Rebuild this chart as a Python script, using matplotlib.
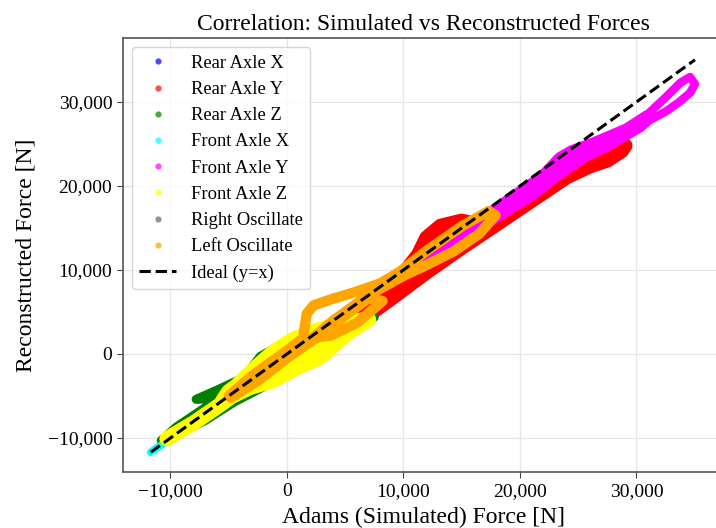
import matplotlib
matplotlib.use("Agg")
import matplotlib.pyplot as plt
from matplotlib.lines import Line2D
from matplotlib.ticker import FuncFormatter

plt.rcParams['font.family'] = ['Liberation Serif', 'DejaVu Serif']

# force pairs (Adams simulated, reconstructed) traced along each channel, in N
rear_x_sim = [-11400, -8000, -5000]
rear_x_rec = [-11300, -8100, -5200]

rear_y_sim = [3000, 6000, 9000, 12000, 15000, 18000, 21000, 24000, 26000, 27500, 28700, 29000,
              28200, 27000, 25800, 24000, 21500, 19000, 16500, 15000, 13200, 12000, 11300,
              10000, 7500, 5000, 3300]
rear_y_rec = [1000, 3700, 6700, 9800, 12700, 15500, 18300, 21100, 22400, 23100, 24200, 24800,
              25200, 24400, 23600, 22000, 19700, 17500, 15300, 15800, 15200, 13800, 11800,
              9500, 6900, 4200, 2400]

rear_z_sim = [-10800, -9500, -8000, -6500, -5000, -4000, -6000, -7800, -6300, -4200, -2300, -400,
              1500, 3500, 5500, 7500, 7000, 5000, 3000, 1900, 0, -2000, -4500, -7000, -9500]
rear_z_rec = [-10300, -8700, -7300, -5900, -4500, -3000, -4300, -5400, -5300, -3700, -300, 1200,
              2300, 3000, 3600, 4400, 4000, 2300, 500, -800, -2300, -3900, -5700, -7900, -9600]

front_x_sim = [-11700, -9000, -6500, -4500, -2000, 2000, 6000, 10000, 11500]
front_x_rec = [-11700, -9200, -6800, -5000, -2500, 1500, 5600, 10000, 11300]

# Front Axle Y: long band, then the loop at the top end
front_y_sim = [10500, 13000, 16000, 19000, 22000, 23500, 24500, 26300, 29200, 31000,
               30200, 27500, 25400, 23000, 21100, 18300, 15000, 12000, 10500]
front_y_rec = [10000, 12400, 15100, 18100, 21000, 23200, 24000, 24900, 26600, 28200,
               27200, 25000, 23600, 21300, 19200, 16800, 13900, 11200, 10000]
front_y_loop_sim = [30500, 31160, 32450, 33740, 34590, 35020, 34590, 33560, 32450, 31160, 30500]
front_y_loop_rec = [27700, 28810, 30480, 32260, 32980, 32140, 31070, 29880, 28810, 27860, 27700]

front_z_sim = [-10300, -8000, -6000, -5000, -4030, -2580, -1200, 515, 2830, 5400, 7000, 5800,
               3500, 1000, -1200, -3500, -5000, -5500, -3180, -1200, 860, 2830, 4980, 5500]
front_z_rec = [-10100, -8200, -6300, -5300, -3390, -1490, 180, 1730, 2920, 3870, 4100, 3000,
               1200, -500, -1500, -3000, -4500, -5540, -3990, -3160, -1610, -420, 2200, 3000]

right_osc_sim = [-4500, 0, 5000, 10000, 15000]
right_osc_rec = [-4600, -100, 4900, 9900, 14800]

left_osc_sim = [-5000, -3000, 0, 1400, 1500, 1700, 2300, 4000, 5700, 8000, 9700, 12000, 15000,
                17300, 17900, 16500, 14300, 12000, 10000, 7000, 4000, 2200, 3800, 6000, 8200,
                7000, 5000, 3000, 0, -2500, -4800]
left_osc_rec = [-5000, -2600, 400, 1900, 3000, 4800, 5800, 6600, 7300, 8400, 9800, 12300, 15200,
                17000, 16500, 14300, 12200, 10600, 9300, 7000, 4000, 1900, 2200, 3700, 6300,
                6600, 4600, 2400, -500, -3200, -5200]

series = [
    ('Rear Axle X', [(rear_x_sim, rear_x_rec, 4)], 'blue'),
    ('Rear Axle Y', [(rear_y_sim, rear_y_rec, 11)], 'red'),
    ('Rear Axle Z', [(rear_z_sim, rear_z_rec, 6.5)], 'green'),
    ('Front Axle X', [(front_x_sim, front_x_rec, 5.5)], 'cyan'),
    ('Front Axle Y', [(front_y_sim, front_y_rec, 10.5),
                      (front_y_loop_sim, front_y_loop_rec, 6)], 'magenta'),
    ('Front Axle Z', [(front_z_sim, front_z_rec, 11)], 'yellow'),
    ('Right Oscillate', [(right_osc_sim, right_osc_rec, 3)], 'dimgray'),
    ('Left Oscillate', [(left_osc_sim, left_osc_rec, 7.5)], 'orange'),
]

fig = plt.figure(figsize=(7.16, 5.28), dpi=100)
# axes end just past the right edge of the picture, as in the cropped original
ax = fig.add_axes([0.1714, 0.1053, 0.8412, 0.8225])

handles = []
all_vals = []
for name, parts, col in series:
    for xs, ys, lw in parts:
        ax.plot(xs, ys, color=col, lw=lw, solid_capstyle='round', solid_joinstyle='round')
        all_vals += xs + ys
    handles.append(Line2D([], [], ls='none', marker='o', ms=4.5, mec='none',
                          color=col, alpha=0.7, label=name))

lo, hi = min(all_vals), max(all_vals)
ideal, = ax.plot([lo, hi], [lo, hi], 'k--', lw=2.2, label='Ideal (y=x)')
handles.append(ideal)

ax.set_xlim(-14100, 37600)
ax.set_ylim(-14100, 37600)
ax.set_xticks([-10000, 0, 10000, 20000, 30000])
ax.set_yticks([-10000, 0, 10000, 20000, 30000])
fmt = FuncFormatter(lambda v, p: f"{v:,.0f}".replace('-', '\u2212'))
ax.xaxis.set_major_formatter(fmt)
ax.yaxis.set_major_formatter(fmt)
ax.tick_params(labelsize=14, length=4, color='#444444')
ax.grid(True, color='#e6e6e6', lw=0.9)
ax.set_axisbelow(True)
for s in ax.spines.values():
    s.set_color('#555555')
    s.set_linewidth(1.2)
ax.spines['right'].set_visible(False)

ax.set_title('Correlation: Simulated vs Reconstructed Forces', fontsize=17, pad=6)
ax.set_xlabel('Adams (Simulated) Force [N]', fontsize=17, labelpad=5)
ax.set_ylabel('Reconstructed Force [N]', fontsize=17, labelpad=8)
ax.legend(handles=handles, loc='upper left', fontsize=13.3, labelspacing=0.5,
          handlelength=2.0, borderaxespad=0.5)

fig.savefig('out.png', dpi=100)
